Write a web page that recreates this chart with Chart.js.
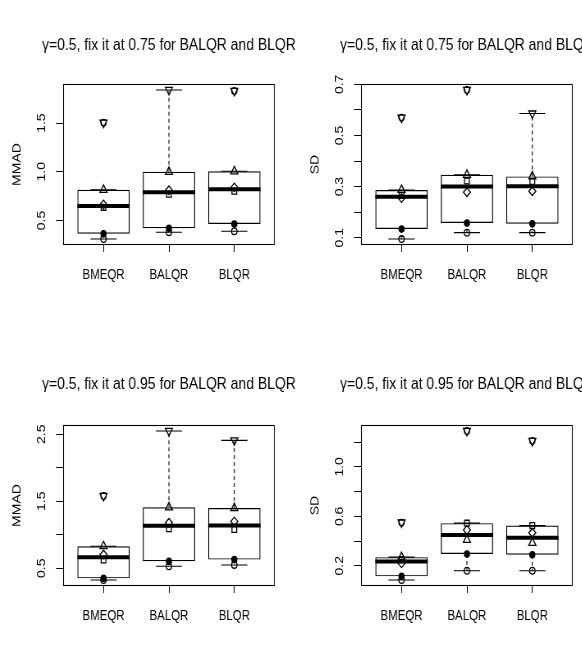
<!DOCTYPE html>
<html><head><meta charset="utf-8">
<script src="https://cdn.jsdelivr.net/npm/chart.js@4.4.0/dist/chart.umd.min.js"></script>
<style>
html,body{margin:0;padding:0;background:#fff;}
#wrap{position:relative;width:582px;height:658px;overflow:hidden;background:#fff;}
.panel{position:absolute;width:412px;height:317px;transform:scaleX(0.82);transform-origin:0 0;}
.panel canvas{display:block;}
</style></head><body>
<div id="wrap">
<div class="panel" style="left:0px;top:0px"><canvas id="c1" width="412" height="317"></canvas></div>
<div class="panel" style="left:298px;top:0px"><canvas id="c2" width="412" height="317"></canvas></div>
<div class="panel" style="left:0px;top:341px"><canvas id="c3" width="412" height="317"></canvas></div>
<div class="panel" style="left:298px;top:341px"><canvas id="c4" width="412" height="317"></canvas></div>
</div>
<script>
const SANS = "'Liberation Sans', Arial, sans-serif";

const categories = ['BMEQR', 'BALQR', 'BLQR'];

// Panel 1: MMAD, fixed at 0.75 (values for BMEQR, BALQR, BLQR)
const mmad75Circle  = [0.310, 0.380, 0.390];
const mmad75Dot     = [0.365, 0.420, 0.465];
const mmad75Square  = [0.635, 0.770, 0.800];
const mmad75Diamond = [0.665, 0.810, 0.840];
const mmad75TriUp   = [0.815, 1.000, 1.005];
const mmad75TriDown = [1.505, 1.840, 1.830];
const mmad75Ticks = [0.5, 1.0, 1.5];
const mmad75TickLabels = ['0.5', '1.0', '1.5'];

// Panel 2: SD, fixed at 0.75
const sd75Circle  = [0.095, 0.120, 0.120];
const sd75Dot     = [0.134, 0.158, 0.155];
const sd75Square  = [0.265, 0.322, 0.320];
const sd75Diamond = [0.255, 0.278, 0.282];
const sd75TriUp   = [0.287, 0.346, 0.340];
const sd75TriDown = [0.570, 0.678, 0.586];
const sd75Ticks = [0.1, 0.2, 0.3, 0.4, 0.5, 0.6, 0.7];
const sd75TickLabels = ['0.1', '', '0.3', '', '0.5', '', '0.7'];

// Panel 3: MMAD, fixed at 0.95
const mmad95Circle  = [0.325, 0.530, 0.550];
const mmad95Dot     = [0.350, 0.605, 0.630];
const mmad95Square  = [0.625, 1.090, 1.080];
const mmad95Diamond = [0.705, 1.180, 1.200];
const mmad95TriUp   = [0.830, 1.410, 1.400];
const mmad95TriDown = [1.580, 2.550, 2.410];
const mmad95Ticks = [0.5, 1.0, 1.5, 2.0, 2.5];
const mmad95TickLabels = ['0.5', '', '1.5', '', '2.5'];

// Panel 4: SD, fixed at 0.95
const sd95Circle  = [0.085, 0.160, 0.160];
const sd95Dot     = [0.115, 0.295, 0.290];
const sd95Square  = [0.250, 0.545, 0.525];
const sd95Diamond = [0.220, 0.490, 0.467];
const sd95TriUp   = [0.270, 0.410, 0.385];
const sd95TriDown = [0.550, 1.290, 1.210];
const sd95Ticks = [0.2, 0.4, 0.6, 0.8, 1.0, 1.2];
const sd95TickLabels = ['0.2', '', '0.6', '', '1.0', ''];

const title75 = 'γ=0.5, fix it at 0.75 for BALQR and BLQR';
const title95 = 'γ=0.5, fix it at 0.95 for BALQR and BLQR';

// ---- R-style boxplot statistics ----
function fivenum(arr) {
  const s = [...arr].sort((a, b) => a - b);
  const n = s.length;
  const n4 = Math.floor((n + 3) / 2) / 2;
  const d = [1, n4, (n + 1) / 2, n + 1 - n4, n];
  return d.map(i => 0.5 * (s[Math.floor(i) - 1] + s[Math.ceil(i) - 1]));
}
function boxStats(arr) {
  const f = fivenum(arr);
  const iqr = f[3] - f[1];
  const lo = f[1] - 1.5 * iqr, hi = f[3] + 1.5 * iqr;
  const inside = arr.filter(v => v >= lo && v <= hi);
  return { q1: f[1], med: f[2], q3: f[3], wlo: Math.min(...inside), whi: Math.max(...inside),
           out: arr.filter(v => v < lo || v > hi) };
}

const framePlugin = {
  id: 'frame',
  afterDraw(chart) {
    const a = chart.chartArea, ctx = chart.ctx;
    ctx.save();
    ctx.strokeStyle = '#000';
    ctx.lineWidth = 1.1;
    ctx.strokeRect(Math.round(a.left) + 0.5, Math.round(a.top) + 0.5,
                   Math.round(a.right - a.left) - 1, Math.round(a.bottom - a.top) - 1);
    ctx.restore();
  }
};

const AXIS_W = 76.8;   // left axis block width (canvas units)

function makePanel(id, title, yTitle, series, ticks, tickLabels, titleTop) {
  const n = categories.length;
  const groups = categories.map((c, i) => series.map(s => s.values[i]));
  const stats = groups.map(boxStats);
  const all = groups.flat();
  const dmin = Math.min(...all), dmax = Math.max(...all);
  const ypad = 0.04 * (dmax - dmin);
  const xpad = 0.04 * n;

  const whiskers = [], staples = [], medians = [], outliers = [];
  stats.forEach((s, i) => {
    const x = i + 1;
    whiskers.push({x, y: s.q3}, {x, y: s.whi}, {x, y: null}, {x, y: s.q1}, {x, y: s.wlo}, {x, y: null});
    staples.push({x: x - 0.2, y: s.whi}, {x: x + 0.2, y: s.whi}, {x, y: null},
                 {x: x - 0.2, y: s.wlo}, {x: x + 0.2, y: s.wlo}, {x, y: null});
    medians.push({x: x - 0.4, y: s.med}, {x: x + 0.4, y: s.med}, {x, y: null});
    s.out.forEach(v => outliers.push({x, y: v}));
  });

  const lineDs = (data, extra) => Object.assign({
    type: 'line', data, borderColor: '#000', borderWidth: 1.1, pointRadius: 0,
    fill: false, tension: 0, spanGaps: false
  }, extra);

  const datasets = [
    { type: 'bar', data: stats.map((s, i) => ({x: i + 1, y: [s.q1, s.q3]})),
      backgroundColor: 'rgba(255,255,255,0)', borderColor: '#000', borderWidth: 1.2,
      borderSkipped: false, barPercentage: 0.8, categoryPercentage: 1, order: 10 },
    lineDs(whiskers, {borderDash: [4, 3], order: 9}),
    lineDs(staples, {order: 8}),
    lineDs(medians, {borderWidth: 4, order: 7}),
    { type: 'scatter', data: outliers, pointStyle: 'circle', pointRadius: 3.3,
      backgroundColor: 'rgba(0,0,0,0)', borderColor: '#000', borderWidth: 1.1, order: 6 }
  ];
  series.forEach((s, k) => {
    datasets.push({
      type: 'scatter',
      data: s.values.map((v, i) => ({x: i + 1, y: v})),
      pointStyle: s.style, pointRadius: s.radius, pointRotation: s.rotation || 0,
      backgroundColor: s.filled ? '#000' : 'rgba(0,0,0,0)', borderColor: '#000',
      borderWidth: 1.3, order: 5 - k * 0.1
    });
  });

  return new Chart(document.getElementById(id), {
    data: { datasets },
    plugins: [framePlugin],
    options: {
      responsive: false, animation: false, events: [],
      layout: { padding: 0 },
      plugins: {
        legend: { display: false }, tooltip: { enabled: false },
        title: { display: true, text: title, color: '#000',
                 font: { family: SANS, size: 17, weight: 'normal', lineHeight: 1.2 },
                 padding: { top: titleTop, bottom: 63.6 - titleTop } }
      },
      scales: {
        x: {
          type: 'linear', offset: false, min: 0.5 - xpad, max: n + 0.5 + xpad,
          afterBuildTicks: sc => { sc.ticks = categories.map((c, i) => ({value: i + 1})); },
          afterFit: sc => { sc.height = 72; },
          ticks: { callback: (v, i) => categories[i], autoSkip: false, maxRotation: 0,
                   padding: 15, color: '#000', font: { family: SANS, size: 14 } },
          grid: { offset: false, drawOnChartArea: false, drawTicks: true, tickLength: 7, color: '#000' },
          border: { display: false }
        },
        y: {
          type: 'linear', min: dmin - ypad, max: dmax + ypad,
          afterBuildTicks: sc => { sc.ticks = ticks.map(v => ({value: v})); },
          afterFit: sc => { sc.width = AXIS_W; },
          ticks: { callback: (v, i) => tickLabels[i], autoSkip: false, minRotation: 90, maxRotation: 90,
                   crossAlign: 'center', padding: 7.7, color: '#000', font: { family: SANS, size: 14 } },
          grid: { drawOnChartArea: false, drawTicks: true, tickLength: 8.5, color: '#000' },
          border: { display: false },
          title: { display: true, text: yTitle, color: '#000', font: { family: SANS, size: 14 },
                   padding: { top: 12.3, bottom: 0 } }
        },
        yRight: {
          type: 'linear', position: 'right', display: true,
          afterFit: sc => { sc.width = AXIS_W; },
          ticks: { display: false }, grid: { display: false, drawTicks: false }, border: { display: false }
        }
      }
    }
  });
}

function seriesOf(circle, dot, square, diamond, triUp, triDown) {
  return [
    { values: circle,  style: 'circle',   radius: 3.3 },
    { values: dot,     style: 'circle',   radius: 3.1, filled: true },
    { values: square,  style: 'rect',     radius: 4.1 },
    { values: diamond, style: 'rectRot',  radius: 4.3 },
    { values: triUp,   style: 'triangle', radius: 5 },
    { values: triDown, style: 'triangle', radius: 5, rotation: 180 }
  ];
}

makePanel('c1', title75, 'MMAD',
  seriesOf(mmad75Circle, mmad75Dot, mmad75Square, mmad75Diamond, mmad75TriUp, mmad75TriDown),
  mmad75Ticks, mmad75TickLabels, 35);
makePanel('c2', title75, 'SD',
  seriesOf(sd75Circle, sd75Dot, sd75Square, sd75Diamond, sd75TriUp, sd75TriDown),
  sd75Ticks, sd75TickLabels, 35);
makePanel('c3', title95, 'MMAD',
  seriesOf(mmad95Circle, mmad95Dot, mmad95Square, mmad95Diamond, mmad95TriUp, mmad95TriDown),
  mmad95Ticks, mmad95TickLabels, 33);
makePanel('c4', title95, 'SD',
  seriesOf(sd95Circle, sd95Dot, sd95Square, sd95Diamond, sd95TriUp, sd95TriDown),
  sd95Ticks, sd95TickLabels, 33);
</script>
</body></html>
